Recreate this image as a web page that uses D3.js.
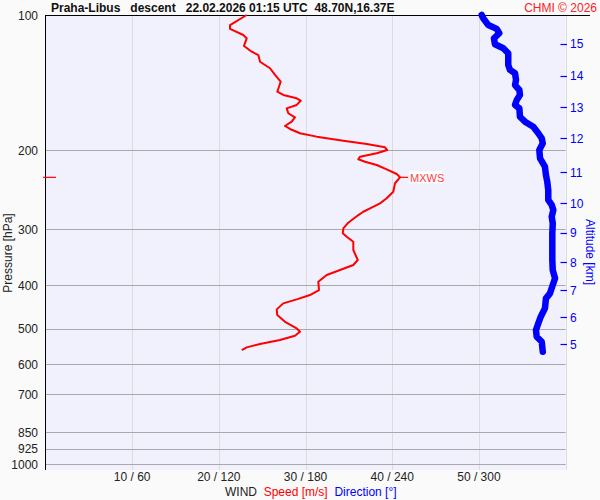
<!DOCTYPE html>
<html><head><meta charset="utf-8">
<script src="https://cdn.jsdelivr.net/npm/d3@7"></script>
<style>
html,body{margin:0;padding:0;background:#fafafa;}
text{font-family:"Liberation Sans",Arial,sans-serif;}
</style></head>
<body><svg id="c" width="600" height="500"></svg>
<script>
// ---- data ----
const titleText = "Praha-Libus   descent   22.02.2026 01:15 UTC  48.70N,16.37E";
const pressureTicks = [100, 200, 300, 400, 500, 600, 700, 850, 925, 1000];
const speedTicks = [10, 20, 30, 40, 50];
const dirTicks = [60, 120, 180, 240, 300];
const altitudeKm = [5, 6, 7, 8, 9, 10, 11, 12, 13, 14, 15];
const altitudeP = [541.3, 471.4, 409.8, 355.5, 305.4, 262.7, 223.7, 188.2, 160.6, 136.7, 115.9];

const speedP = [100, 105.3, 107.4, 110.8, 112.7, 117.2, 120.7, 122.8, 127.1, 131.4, 136.0, 140.8, 148.2, 150.7, 153.3, 155.2, 158.6, 161.4, 165.5, 169.0, 172.8, 176.7, 179.4, 183.4, 186.6, 190.5, 193.8, 197.1, 199.9, 203.2, 206.8, 209.6, 212.2, 215.8, 220.7, 226.0, 229.9, 237.0, 247.5, 256.0, 262.7, 269.6, 274.3, 279.0, 290.1, 298.6, 306.3, 311.7, 319.8, 333.7, 351.3, 360.4, 369.8, 379.4, 392.6, 409.9, 420.5, 429.9, 438.8, 452.5, 465.9, 482.2, 498.8, 507.5, 518.1, 529.6, 540.5, 549.8, 557.4];
const speedV = [23.21, 21.29, 21.29, 22.82, 23.21, 22.90, 23.79, 24.55, 24.75, 25.90, 26.48, 27.13, 26.74, 27.43, 28.98, 29.44, 28.98, 27.83, 28.01, 28.78, 28.40, 27.63, 28.21, 29.36, 31.29, 34.36, 37.06, 39.17, 39.43, 38.21, 36.28, 36.09, 36.86, 38.21, 39.36, 40.52, 40.90, 40.32, 40.12, 39.36, 38.59, 37.44, 36.66, 36.09, 34.93, 34.36, 34.29, 34.75, 35.51, 35.51, 36.02, 35.51, 33.98, 32.44, 31.47, 31.55, 30.51, 28.98, 27.43, 26.67, 26.74, 27.63, 28.98, 29.36, 28.78, 27.05, 24.75, 23.21, 22.64];

const dirP = [100, 101.7, 105.3, 107.4, 109.8, 112.7, 116.2, 118.6, 121.7, 129.2, 132.5, 134.8, 139.5, 143.2, 146.9, 150.7, 154.6, 158.6, 161.4, 168.5, 172.8, 177.3, 183.4, 188.2, 193.1, 199.9, 208.5, 217.7, 227.2, 235.0, 245.4, 258.2, 264.9, 271.9, 281.4, 291.1, 306.3, 328.1, 351.3, 369.8, 385.8, 399.4, 416.8, 427.6, 450.1, 469.9, 486.1, 503.1, 520.7, 534.2, 562.3];
const dirV = [301.9, 303.0, 306.5, 312.3, 314.1, 310.4, 311.1, 316.9, 320.3, 320.3, 321.5, 325.0, 325.7, 325.0, 328.0, 328.4, 326.2, 325.0, 328.0, 328.4, 331.9, 337.6, 341.1, 343.5, 344.2, 341.8, 342.3, 345.7, 346.4, 347.3, 348.0, 348.0, 350.4, 351.5, 350.4, 351.1, 350.8, 350.8, 350.8, 351.1, 352.7, 351.1, 349.2, 346.4, 345.7, 342.8, 341.1, 339.5, 340.0, 343.5, 344.2];

// ---- layout ----
const svg = d3.select("#c");
const L = 45.5, R = 565.6, T = 15, B = 464, Bext = 470;
const y = d3.scaleLog().domain([100, 1000]).range([T, B]);
const xs = d3.scaleLinear().domain([0, 60]).range([L, R]);
const xd = d3.scaleLinear().domain([0, 360]).range([L, R]);

// plot background
svg.append("rect").attr("x", L).attr("y", T).attr("width", R - L).attr("height", Bext - T).attr("fill", "#f1f1fd");

// vertical grid
svg.append("g").selectAll("line").data(d3.range(10, 61, 10)).join("line")
  .attr("x1", d => Math.round(xs(d)) + 0.5).attr("x2", d => Math.round(xs(d)) + 0.5)
  .attr("y1", T).attr("y2", Bext).attr("stroke", "#dcdcdc").attr("stroke-width", 1);

// horizontal grid
svg.append("g").selectAll("line").data(pressureTicks.filter(p => p > 100)).join("line")
  .attr("x1", L).attr("x2", R)
  .attr("y1", d => Math.round(y(d)) + 0.5).attr("y2", d => Math.round(y(d)) + 0.5)
  .attr("stroke", "#a9a9a9").attr("stroke-width", 1);

// left axis line & top line
svg.append("line").attr("x1", 45.5).attr("x2", 45.5).attr("y1", T).attr("y2", Bext).attr("stroke", "#000");
svg.append("line").attr("x1", 45).attr("x2", 590).attr("y1", T + 0.5).attr("y2", T + 0.5).attr("stroke", "#000");

// pressure labels
svg.append("g").selectAll("text").data(pressureTicks).join("text")
  .attr("x", 38).attr("y", d => y(d) + 4.5).attr("text-anchor", "end")
  .attr("font-size", 12).attr("fill", "#222").text(d => d);

svg.append("text").attr("transform", "translate(12,253) rotate(-90)").attr("text-anchor", "middle")
  .attr("font-size", 12).attr("fill", "#222").text("Pressure [hPa]");

// bottom tick labels
svg.append("g").selectAll("text").data(speedTicks).join("text")
  .attr("x", d => xs(d)).attr("y", 481).attr("text-anchor", "middle")
  .attr("font-size", 12).attr("fill", "#222").text((d, i) => d + " / " + dirTicks[i]);

const wl = svg.append("text").attr("x", 225).attr("y", 496).attr("font-size", 12).attr("xml:space", "preserve");
wl.append("tspan").attr("fill", "#222").text("WIND  ");
wl.append("tspan").attr("fill", "#ff0000").text("Speed [m/s]  ");
wl.append("tspan").attr("fill", "#0000ff").text("Direction [°]");

// altitude axis
const alt = svg.append("g");
alt.selectAll("line").data(altitudeP).join("line")
  .attr("x1", 560.5).attr("x2", 567).attr("y1", d => Math.round(y(d)) + 0.5).attr("y2", d => Math.round(y(d)) + 0.5)
  .attr("stroke", "#0000ff").attr("stroke-width", 1.2);
alt.selectAll("text").data(altitudeKm).join("text")
  .attr("x", 570).attr("y", (d, i) => y(altitudeP[i]) + 4.5)
  .attr("font-size", 12).attr("fill", "#0000ff").text(d => d);
svg.append("text").attr("transform", "translate(586,252) rotate(90)").attr("text-anchor", "middle")
  .attr("font-size", 12).attr("fill", "#0000ff").text("Altitude [km]");

// title
svg.append("text").attr("x", 51).attr("y", 12).attr("font-size", 12).attr("font-weight", "bold")
  .attr("fill", "#111").attr("xml:space", "preserve").text(titleText);
svg.append("text").attr("x", 597).attr("y", 12).attr("text-anchor", "end").attr("font-size", 12)
  .attr("fill", "#ff2020").text("CHMI © 2026");

// direction line
const dirData = dirP.map((p, i) => [p, dirV[i]]);
svg.append("path").datum(dirData)
  .attr("d", d3.line().x(d => xd(d[1])).y(d => y(d[0])))
  .attr("fill", "none").attr("stroke", "#0000ff").attr("stroke-width", 6.5)
  .attr("stroke-linejoin", "round").attr("stroke-linecap", "round");

// speed line
const spData = speedP.map((p, i) => [p, speedV[i]]);
svg.append("path").datum(spData)
  .attr("d", d3.line().x(d => xs(d[1])).y(d => y(d[0])))
  .attr("fill", "none").attr("stroke", "#ff0000").attr("stroke-width", 2)
  .attr("stroke-linejoin", "round");

// MXWS
const mi = d3.maxIndex(speedV);
const my = y(speedP[mi]), mx = xs(speedV[mi]);
svg.append("line").attr("x1", 43).attr("x2", 56).attr("y1", my).attr("y2", my).attr("stroke", "#ff0000").attr("stroke-width", 1.2);
svg.append("line").attr("x1", mx).attr("x2", mx + 8).attr("y1", my).attr("y2", my).attr("stroke", "#ff0000").attr("stroke-width", 1.2);
svg.append("rect").attr("x", mx + 9).attr("y", my - 6).attr("width", 33).attr("height", 12).attr("fill", "#ffffff");
svg.append("text").attr("x", mx + 10).attr("y", my + 4.5).attr("font-size", 11).attr("fill", "#ff4040").text("MXWS");
</script></body></html>
